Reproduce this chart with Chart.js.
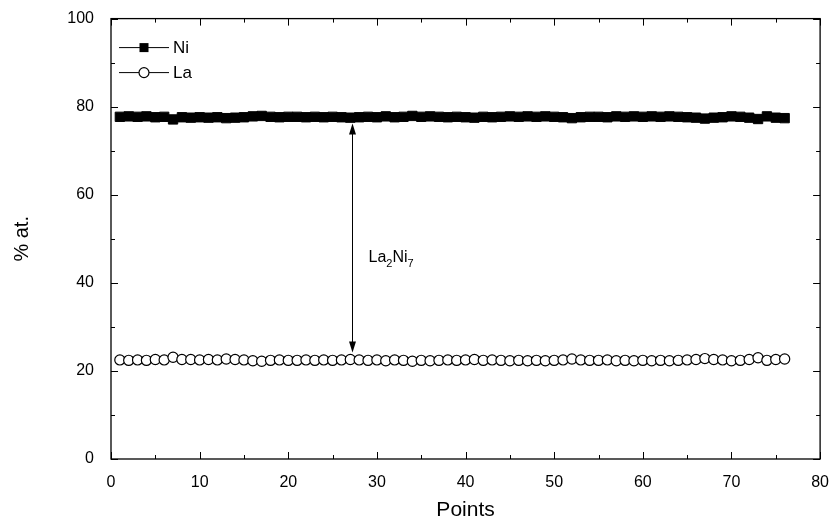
<!DOCTYPE html>
<html>
<head>
<meta charset="utf-8">
<script src="https://cdn.jsdelivr.net/npm/chart.js@4.4.0/dist/chart.umd.min.js"></script>
<style>
  html, body { margin: 0; padding: 0; background: #fff; }
  #wrap { width: 835px; height: 527px; }
</style>
</head>
<body>
<div id="wrap"><canvas id="grafico" width="835" height="527"></canvas></div>
<script>
// datos
var puntos = [];
for (var i = 1; i <= 76; i++) puntos.push(i);

var ni = [77.7,77.8,77.7,77.8,77.6,77.7,77.1,77.6,77.5,77.6,77.5,77.6,77.4,77.5,77.6,77.8,77.9,77.7,77.6,77.7,
          77.7,77.6,77.7,77.6,77.7,77.6,77.5,77.6,77.7,77.6,77.8,77.6,77.7,77.9,77.7,77.8,77.7,77.6,77.7,77.6,
          77.5,77.7,77.6,77.7,77.8,77.7,77.8,77.7,77.8,77.7,77.6,77.4,77.6,77.7,77.7,77.6,77.8,77.7,77.8,77.7,
          77.8,77.7,77.8,77.7,77.6,77.5,77.3,77.5,77.6,77.8,77.7,77.5,77.2,77.8,77.5,77.4];

var la = [22.5,22.4,22.5,22.4,22.6,22.5,23.1,22.6,22.6,22.5,22.6,22.5,22.7,22.6,22.5,22.3,22.2,22.4,22.5,22.4,
          22.4,22.5,22.4,22.5,22.4,22.5,22.6,22.5,22.4,22.5,22.3,22.5,22.4,22.2,22.4,22.3,22.4,22.5,22.4,22.5,
          22.6,22.4,22.5,22.4,22.3,22.4,22.3,22.4,22.3,22.4,22.5,22.7,22.5,22.4,22.4,22.5,22.3,22.4,22.3,22.4,
          22.3,22.4,22.3,22.4,22.5,22.6,22.8,22.6,22.5,22.3,22.4,22.6,23.0,22.4,22.6,22.7];

var xTicks = [0, 10, 20, 30, 40, 50, 60, 70, 80];
var yTicks = [0, 20, 40, 60, 80, 100];

// flecha entre las dos fases
var flechaX = 27.2;
var flechaY = [76.2, 24.2];
var etiquetaY = 44.8;

function pares(xs, ys) {
    return xs.map(function(x, k) { return { x: x, y: ys[k] }; });
}

var fuente = '"Liberation Sans", Arial, sans-serif';

// marcas de ejes hacia adentro, en los cuatro lados
var marcasPlugin = {
    id: 'marcas',
    afterDraw: function(chart) {
        var ctx = chart.ctx;
        var a = chart.chartArea;
        var sx = chart.scales.x, sy = chart.scales.y;
        ctx.save();
        ctx.strokeStyle = '#000';
        ctx.lineWidth = 1.3;
        ctx.strokeRect(a.left, a.top, a.right - a.left, a.bottom - a.top);
        ctx.lineWidth = 1;
        ctx.beginPath();
        for (var v = 0; v <= 80; v += 5) {
            var px = Math.round(sx.getPixelForValue(v)) + 0.5;
            var len = (v % 10 === 0) ? 7 : 4;
            ctx.moveTo(px, a.bottom); ctx.lineTo(px, a.bottom - len);
            ctx.moveTo(px, a.top); ctx.lineTo(px, a.top + len);
        }
        for (var w = 0; w <= 100; w += 10) {
            var py = Math.round(sy.getPixelForValue(w)) + 0.5;
            var l2 = (w % 20 === 0) ? 7 : 4;
            ctx.moveTo(a.left, py); ctx.lineTo(a.left + l2, py);
            ctx.moveTo(a.right, py); ctx.lineTo(a.right - l2, py);
        }
        ctx.stroke();

        // leyenda
        var ds = chart.data.datasets;
        ds.forEach(function(d, k) {
            var y = a.top + 29 + k * 25;
            var x0 = a.left + 8;
            ctx.beginPath();
            ctx.moveTo(x0, y); ctx.lineTo(x0 + 50, y);
            ctx.stroke();
            var r = d.pointStyle === 'rect' ? 4.5 : 5;
            ctx.beginPath();
            if (d.pointStyle === 'rect') {
                ctx.fillStyle = '#000';
                ctx.fillRect(x0 + 25 - r, y - r, 2 * r, 2 * r);
            } else {
                ctx.fillStyle = '#fff';
                ctx.arc(x0 + 25, y, r, 0, Math.PI * 2);
                ctx.fill();
                ctx.lineWidth = 1.2;
                ctx.stroke();
                ctx.lineWidth = 1;
            }
            ctx.fillStyle = '#000';
            ctx.font = '17px ' + fuente;
            ctx.textBaseline = 'middle';
            ctx.textAlign = 'left';
            ctx.fillText(d.label, x0 + 54, y + 1);
        });

        // flecha doble
        var fx = Math.round(sx.getPixelForValue(flechaX)) + 0.5;
        var y1 = sy.getPixelForValue(flechaY[0]);
        var y2 = sy.getPixelForValue(flechaY[1]);
        ctx.beginPath();
        ctx.moveTo(fx, y1 + 8); ctx.lineTo(fx, y2 - 8);
        ctx.stroke();
        ctx.fillStyle = '#000';
        ctx.beginPath();
        ctx.moveTo(fx, y1); ctx.lineTo(fx - 3.5, y1 + 11); ctx.lineTo(fx + 3.5, y1 + 11); ctx.closePath();
        ctx.fill();
        ctx.beginPath();
        ctx.moveTo(fx, y2); ctx.lineTo(fx - 3.5, y2 - 11); ctx.lineTo(fx + 3.5, y2 - 11); ctx.closePath();
        ctx.fill();

        // etiqueta La2Ni7
        var tx = fx + 16;
        var ty = sy.getPixelForValue(etiquetaY);
        ctx.textBaseline = 'alphabetic';
        ctx.textAlign = 'left';
        var partes = [['La', 0], ['2', 1], ['Ni', 0], ['7', 1]];
        partes.forEach(function(p) {
            ctx.font = (p[1] ? '11px ' : '16px ') + fuente;
            ctx.fillText(p[0], tx, ty + (p[1] ? 5 : 0));
            tx += ctx.measureText(p[0]).width;
        });
        ctx.restore();
    }
};

var ctx = document.getElementById('grafico').getContext('2d');
var myChart = new Chart(ctx, {
    type: 'line',
    data: {
        datasets: [{
            label: 'Ni',
            data: pares(puntos, ni),
            borderColor: '#000',
            borderWidth: 1,
            backgroundColor: '#000',
            pointStyle: 'rect',
            pointRadius: 6.6,
            pointBorderWidth: 1,
            pointBackgroundColor: '#000',
            pointBorderColor: '#000',
            tension: 0
        }, {
            label: 'La',
            data: pares(puntos, la),
            borderColor: '#000',
            borderWidth: 1,
            backgroundColor: '#fff',
            pointStyle: 'circle',
            pointRadius: 5.1,
            pointBorderWidth: 1.2,
            pointBackgroundColor: '#fff',
            pointBorderColor: '#000',
            tension: 0
        }]
    },
    options: {
        responsive: false,
        animation: false,
        devicePixelRatio: 1,
        layout: { padding: { top: 18, right: 11, left: 0, bottom: 0 } },
        plugins: {
            legend: { display: false },
            tooltip: { enabled: false }
        },
        scales: {
            x: {
                type: 'linear',
                min: 0,
                max: 80,
                afterBuildTicks: function(scale) {
                    scale.ticks = xTicks.map(function(v) { return { value: v }; });
                },
                afterFit: function(scale) { scale.height = 68; },
                grid: { display: false },
                border: { display: false },
                ticks: {
                    color: '#000',
                    padding: 6,
                    maxRotation: 0,
                    font: { family: fuente, size: 16 }
                },
                title: {
                    display: true,
                    text: 'Points',
                    color: '#000',
                    padding: { top: 4 },
                    font: { family: fuente, size: 21 }
                }
            },
            y: {
                type: 'linear',
                min: 0,
                max: 100,
                afterBuildTicks: function(scale) {
                    scale.ticks = yTicks.map(function(v) { return { value: v }; });
                },
                afterFit: function(scale) { scale.width = 111; },
                grid: { display: false },
                border: { display: false },
                ticks: {
                    color: '#000',
                    padding: 9,
                    font: { family: fuente, size: 16 }
                },
                title: {
                    display: true,
                    text: '% at.',
                    color: '#000',
                    padding: { top: 10, bottom: 10 },
                    font: { family: fuente, size: 20 }
                }
            }
        }
    },
    plugins: [marcasPlugin]
});
</script>
</body>
</html>
